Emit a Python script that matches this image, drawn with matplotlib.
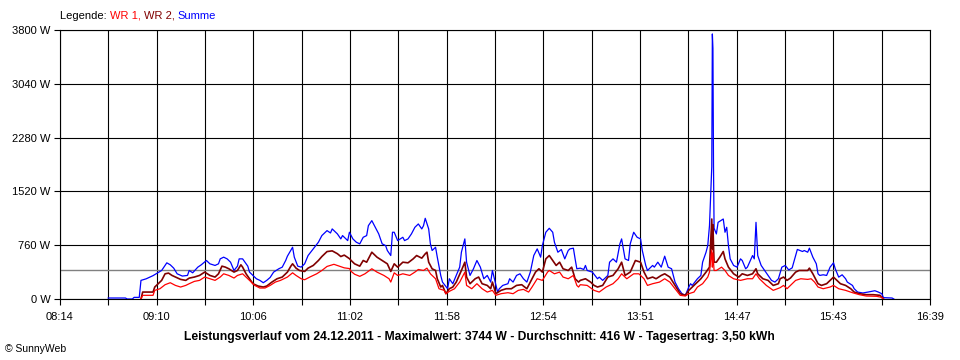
import matplotlib
matplotlib.use("Agg")
import matplotlib.pyplot as plt

plt.rcParams['font.family'] = ['Liberation Sans', 'DejaVu Sans']

# ---------------- data ----------------
x_tick_labels = ["08:14", "09:10", "10:06", "11:02", "11:58",
                 "12:54", "13:51", "14:47", "15:43", "16:39"]
y_ticks = [0, 760, 1520, 2280, 3040, 3800]
average_w = 416

sum_t = ["08:42", "08:52", "08:53", "08:56", "08:57", "09:00", "09:01", "09:04", "09:08", "09:13",
         "09:16", "09:18", "09:20", "09:22", "09:25", "09:28", "09:29", "09:31", "09:34", "09:36",
         "09:39", "09:41", "09:44", "09:46", "09:47", "09:49", "09:51", "09:53", "09:55", "09:57",
         "09:58", "10:00", "10:03", "10:04", "10:06", "10:08", "10:10", "10:12", "10:14", "10:16",
         "10:18", "10:21", "10:23", "10:25", "10:26", "10:29", "10:30", "10:32", "10:34", "10:36",
         "10:38", "10:41", "10:44", "10:46", "10:49", "10:51", "10:52", "10:55", "10:57", "10:58",
         "11:01", "11:02", "11:04", "11:06", "11:08", "11:10", "11:12", "11:13", "11:15", "11:17",
         "11:19", "11:21", "11:23", "11:24", "11:26", "11:27", "11:28", "11:30", "11:33", "11:34",
         "11:36", "11:38", "11:40", "11:42", "11:44", "11:45", "11:46", "11:48", "11:49", "11:50",
         "11:52", "11:53", "11:55", "11:56", "11:59", "12:00", "12:02", "12:04", "12:06", "12:07",
         "12:09", "12:10", "12:12", "12:14", "12:16", "12:18", "12:20", "12:22", "12:24", "12:25",
         "12:28", "12:29", "12:31", "12:34", "12:35", "12:37", "12:39", "12:41", "12:43", "12:45",
         "12:47", "12:49", "12:51", "12:53", "12:54", "12:56", "12:58", "13:00", "13:01", "13:03",
         "13:05", "13:07", "13:09", "13:10", "13:12", "13:13", "13:14", "13:16", "13:18", "13:19",
         "13:20", "13:23", "13:26", "13:27", "13:29", "13:32", "13:33", "13:35", "13:37", "13:39",
         "13:40", "13:42", "13:44", "13:45", "13:47", "13:49", "13:51", "13:52", "13:54", "13:55",
         "13:58", "13:59", "14:01", "14:03", "14:05", "14:07", "14:09", "14:11", "14:13", "14:15",
         "14:17", "14:19", "14:20", "14:21", "14:24", "14:26", "14:27", "14:29", "14:30", "14:31",
         "14:32:20", "14:32:40", "14:33:00", "14:33:20", "14:33:40", "14:35", "14:36", "14:39", "14:40",
         "14:41", "14:42", "14:43",
         "14:45", "14:47", "14:49", "14:50", "14:52", "14:53", "14:56", "14:57", "14:58", "14:59",
         "15:01", "15:03", "15:05", "15:07", "15:09", "15:11", "15:13", "15:15", "15:17", "15:19",
         "15:21", "15:22", "15:25", "15:26", "15:28", "15:29", "15:31", "15:33", "15:34", "15:35",
         "15:37", "15:39", "15:41", "15:43", "15:44", "15:46", "15:48", "15:50", "15:51", "15:54",
         "15:55", "15:57", "16:00", "16:01", "16:03", "16:05", "16:07", "16:09", "16:11", "16:12",
         "16:17", "16:18"]
summe = [14, 14, 0, 0, 23, 23, 263, 285, 330, 403,
         511, 483, 436, 356, 324, 333, 403, 370, 450, 483,
         544, 497, 474, 497, 567, 591, 567, 520, 403, 464,
         567, 567, 464, 380, 333, 286, 263, 230, 263, 305,
         380, 427, 450, 544, 605, 731, 591, 464, 450, 497,
         614, 708, 802, 896, 966, 933, 990, 920, 849, 896,
         825, 943, 849, 802, 779, 872, 896, 1036, 1107, 1013,
         920, 779, 755, 685, 614, 943, 943, 825, 872, 825,
         849, 920, 1013, 1060, 990, 1036, 1140, 990, 779, 685,
         731, 591, 333, 239, 145, 286, 216, 333, 450, 661,
         849, 520, 333, 427, 544, 450, 286, 333, 239, 403,
         98, 145, 192, 216, 286, 239, 333, 356, 286, 239,
         380, 614, 708, 591, 755, 943, 999, 943, 802, 661,
         699, 567, 685, 708, 718, 567, 427, 436, 417, 474,
         403, 380, 286, 309, 263, 333, 520, 567, 520, 779,
         849, 567, 544, 779, 943, 872, 849, 685, 474, 403,
         474, 450, 520, 450, 605, 450, 427, 239, 145, 75,
         52, 169, 216, 192, 286, 333, 520, 661, 755, 1036,
         1870, 3744, 3540, 1870, 1000, 919, 1083, 1130, 943,
         1013, 755, 567,
         474, 450, 567, 544, 427, 450, 614, 567, 1083, 614,
         474, 403, 333, 263, 239, 286, 450, 474, 410, 440,
         615, 700, 671, 685, 661, 718, 591, 497, 356, 333,
         342, 333, 450, 511, 427, 309, 342, 286, 239, 192,
         145, 98, 85, 89, 98, 108, 117, 98, 75, 19,
         14, 0]

wr2_t = ["09:01", "09:02", "09:08", "09:09", "09:11", "09:13", "09:15", "09:17", "09:19", "09:21",
         "09:24", "09:27", "09:29", "09:32", "09:35", "09:38", "09:41", "09:44", "09:46", "09:48",
         "09:50", "09:52", "09:55", "09:57", "09:59", "10:00", "10:02", "10:04", "10:06", "10:09",
         "10:12", "10:14", "10:17", "10:20", "10:23", "10:26", "10:28", "10:29", "10:31", "10:33",
         "10:36", "10:38", "10:41", "10:44", "10:46", "10:49", "10:52", "10:55", "10:57", "10:59",
         "11:02", "11:03", "11:05", "11:08", "11:10", "11:12", "11:15", "11:18", "11:21", "11:24",
         "11:26", "11:28", "11:30", "11:33", "11:36", "11:39", "11:41", "11:44", "11:46", "11:47",
         "11:48", "11:50", "11:52", "11:53", "11:55", "11:56", "11:58", "12:00", "12:02", "12:04",
         "12:07", "12:09", "12:10", "12:12", "12:15", "12:17", "12:19", "12:22", "12:24", "12:25",
         "12:27", "12:30", "12:33", "12:36", "12:39", "12:42", "12:45", "12:47", "12:50", "12:52",
         "12:54", "12:56", "12:58", "13:00", "13:02", "13:04", "13:06", "13:09", "13:11", "13:13",
         "13:15", "13:16", "13:19", "13:22", "13:24", "13:26", "13:29", "13:32", "13:35", "13:38",
         "13:40", "13:42", "13:45", "13:48", "13:51", "13:53", "13:55", "13:58", "14:00", "14:03",
         "14:05", "14:08", "14:11", "14:14", "14:17", "14:19", "14:21", "14:24", "14:26", "14:29",
         "14:31", "14:32:20", "14:32:40", "14:33:00", "14:33:20", "14:33:40", "14:35", "14:37",
         "14:39", "14:40", "14:42", "14:45",
         "14:48", "14:50", "14:53", "14:56", "14:58", "14:59", "15:02", "15:05", "15:08", "15:11",
         "15:12", "15:14", "15:16", "15:18", "15:21", "15:23", "15:26", "15:28", "15:29", "15:31",
         "15:34", "15:36", "15:39", "15:42", "15:43", "15:45", "15:47", "15:50", "15:53", "15:55",
         "15:58", "16:02", "16:06", "16:10", "16:11", "16:12"]
wr2 = [0, 98, 98, 169, 216, 263, 356, 366, 333, 310,
       277, 263, 295, 310, 333, 380, 333, 310, 356, 464,
       450, 427, 380, 403, 483, 450, 356, 286, 216, 183,
       169, 183, 239, 286, 310, 380, 464, 497, 436, 403,
       389, 436, 474, 544, 600, 670, 680, 640, 600, 620,
       570, 544, 497, 464, 544, 520, 661, 591, 544, 497,
       389, 497, 450, 520, 511, 567, 614, 577, 638, 661,
       520, 427, 403, 286, 169, 192, 75, 145, 169, 239,
       403, 520, 310, 216, 286, 310, 216, 192, 145, 239,
       75, 122, 145, 145, 192, 202, 145, 239, 380, 427,
       380, 567, 614, 544, 474, 520, 427, 403, 450, 286,
       239, 263, 286, 239, 192, 169, 192, 310, 333, 427,
       520, 333, 380, 544, 520, 380, 286, 310, 286, 333,
       356, 310, 192, 75, 52, 122, 169, 239, 286, 380,
       450, 1130, 700, 1050, 750, 520, 520, 591,
       671, 567, 450, 356,
       310, 356, 333, 356, 427, 356, 286, 263, 192, 216,
       286, 310, 263, 296, 380, 403, 403, 403, 436, 356,
       216, 192, 216, 286, 309, 263, 216, 192, 145, 98,
       75, 61, 61, 52, 23, 0]

wr1_t = ["09:01", "09:02", "09:08", "09:09", "09:12", "09:15", "09:18", "09:21", "09:24", "09:27",
         "09:29", "09:32", "09:35", "09:38", "09:41", "09:44", "09:47", "09:49", "09:52", "09:55",
         "09:57", "10:00", "10:02", "10:04", "10:07", "10:10", "10:13", "10:16", "10:19", "10:22",
         "10:26", "10:29", "10:31", "10:34", "10:36", "10:39", "10:43", "10:46", "10:49", "10:53",
         "10:56", "10:59", "11:02", "11:03", "11:05", "11:08", "11:11", "11:15", "11:18", "11:22",
         "11:25", "11:26", "11:28", "11:30", "11:33", "11:37", "11:40", "11:42", "11:45", "11:47",
         "11:49", "11:52", "11:54", "11:57", "11:58", "12:00", "12:03", "12:06", "12:09", "12:10",
         "12:13", "12:16", "12:19", "12:22", "12:25", "12:27", "12:30", "12:34", "12:37", "12:40",
         "12:43", "12:46", "12:48", "12:51", "12:54", "12:57", "12:58", "13:01", "13:04", "13:06",
         "13:09", "13:12", "13:14", "13:15", "13:16", "13:20", "13:24", "13:27", "13:31", "13:35",
         "13:38", "13:40", "13:43", "13:47", "13:50", "13:53", "13:55", "13:58", "14:02", "14:05",
         "14:08", "14:11", "14:14", "14:17", "14:19", "14:22", "14:24", "14:27", "14:30", "14:31",
         "14:32:20", "14:32:40", "14:33:00", "14:33:40", "14:35", "14:38", "14:40", "14:42", "14:45",
         "14:49", "14:53",
         "14:56", "14:58", "15:00", "15:04", "15:08", "15:12", "15:14", "15:16", "15:18", "15:21",
         "15:24", "15:28", "15:30", "15:32", "15:34", "15:37", "15:41", "15:43", "15:46", "15:50",
         "15:54", "15:58", "16:02", "16:08", "16:11", "16:12"]
wr1 = [0, 52, 52, 122, 145, 202, 230, 192, 169, 192,
       216, 249, 263, 310, 286, 263, 310, 356, 333, 296,
       333, 356, 310, 263, 192, 155, 155, 192, 239, 263,
       310, 370, 333, 286, 272, 310, 356, 403, 460, 490,
       465, 440, 430, 390, 350, 320, 356, 427, 380, 333,
       286, 239, 370, 333, 356, 333, 380, 417, 403, 436,
       356, 286, 145, 122, 75, 108, 145, 239, 380, 192,
       145, 216, 145, 98, 122, 52, 75, 89, 75, 122,
       136, 98, 169, 286, 263, 380, 403, 356, 380, 310,
       286, 333, 192, 169, 202, 192, 122, 98, 169, 216,
       286, 356, 286, 356, 356, 286, 192, 216, 239, 286,
       239, 145, 52, 42, 75, 98, 169, 216, 310, 380,
       692, 450, 650, 403, 403, 450, 403, 333, 286,
       263, 286,
       286, 356, 286, 192, 122, 160, 192, 145, 192, 263,
       286, 277, 286, 239, 169, 145, 169, 192, 145, 122,
       89, 61, 42, 38, 23, 0]


def to_min(s):
    parts = [int(p) for p in s.split(":")]
    minutes = parts[0] * 60 + parts[1]
    if len(parts) == 3:
        minutes += parts[2] / 60.0
    return minutes


x_start, x_end = to_min("08:14"), to_min("16:39")

# ---------------- figure ----------------
fig = plt.figure(figsize=(9.6, 3.6), dpi=100)
fig.patch.set_facecolor("white")
ax = fig.add_axes([60 / 960, 61 / 360, 870 / 960, 269 / 360])

ax.plot([to_min(t) for t in sum_t], summe, color="#0000FF", lw=0.9, zorder=3)
ax.plot([to_min(t) for t in wr2_t], wr2, color="#800000", lw=1.2, zorder=4)
ax.plot([to_min(t) for t in wr1_t], wr1, color="#FF0000", lw=0.9, zorder=5)
ax.axhline(average_w, color="#808080", lw=1.0, zorder=2)

ax.set_xlim(x_start, x_end)
ax.set_ylim(0, 3800)

n_int = 2 * (len(x_tick_labels) - 1)
xt = [x_start + i * (x_end - x_start) / n_int for i in range(n_int + 1)]
xl = [x_tick_labels[i // 2] if i % 2 == 0 else "" for i in range(n_int + 1)]
ax.set_xticks(xt)
ax.set_xticklabels(xl)
ax.set_yticks(y_ticks)
ax.set_yticklabels([f"{v} W" for v in y_ticks])

ax.grid(True, color="black", lw=0.8, zorder=1)
ax.set_axisbelow(True)
for sp in ax.spines.values():
    sp.set_color("black")
    sp.set_linewidth(0.8)
ax.tick_params(axis="both", direction="out", length=4, width=0.8,
               colors="black", labelsize=8)
ax.tick_params(axis="x", pad=5)
ax.tick_params(axis="y", pad=3)

# title / footer
fig.text(0.499, 1 - 337 / 360,
         "Leistungsverlauf vom 24.12.2011 - Maximalwert: 3744 W - Durchschnitt: 416 W - Tagesertrag: 3,50 kWh",
         ha="center", va="center", fontsize=8.7, fontweight="bold", color="black")
fig.text(5 / 960, 1 - 349 / 360, "© SunnyWeb", ha="left", va="center",
         fontsize=7.5, color="black")

# coloured legend line
parts = [("Legende: ", "black"), ("WR 1, ", "#FF0000"),
         ("WR 2, ", "#800000"), ("Summe", "#0000FF")]
fig.canvas.draw()
renderer = fig.canvas.get_renderer()
xpos = 60 / 960
for txt, col in parts:
    t = fig.text(xpos, 1 - 16 / 360, txt, ha="left", va="center",
                 fontsize=8, color=col)
    bb = t.get_window_extent(renderer=renderer)
    xpos += bb.width / fig.bbox.width

fig.savefig("out.png", dpi=100, facecolor="white")
